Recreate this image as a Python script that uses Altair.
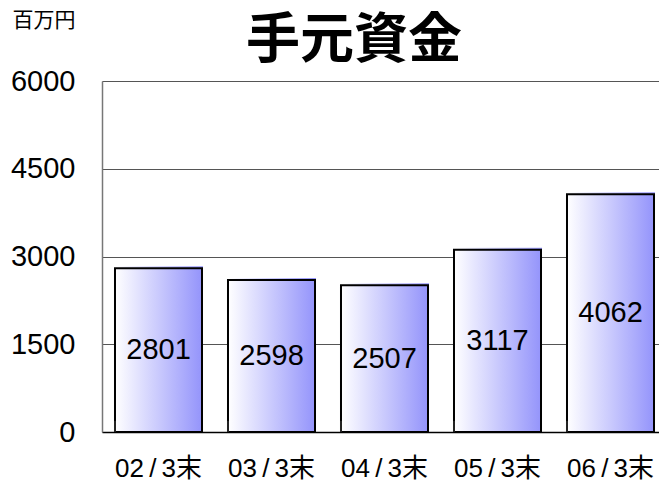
import altair as alt
import pandas as pd

categories = ["02/3末", "03/3末", "04/3末", "05/3末", "06/3末"]
values = [2801, 2598, 2507, 3117, 4062]
y_ticks = [0, 1500, 3000, 4500, 6000]
title_text = ["手元資金"]
unit_text = ["百万円"]

df = pd.DataFrame({"cat": categories, "val": values})

FONT = "Liberation Sans, Arial, Noto Sans CJK JP"
CJK = "Noto Sans CJK JP"

grad = alt.Gradient(
    gradient="linear",
    stops=[alt.GradientStop(color="#ffffff", offset=0),
           alt.GradientStop(color="#9494fb", offset=1)],
    x1=0, x2=1, y1=0, y2=0,
)

xscale = alt.Scale(domain=categories, range=[0, 565], paddingInner=0.23, paddingOuter=0.115)

x_enc = alt.X("cat:N", sort=categories, scale=xscale,
              axis=alt.Axis(title=None, labelFontSize=26, labelFont=FONT, labelColor="#000",
                            labelAngle=0, labelPadding=23, ticks=False,
                            labelExpr="replace(datum.label, '/', '\u2009/\u2009')",
                            domainColor="#000", domainWidth=1.5, grid=False))

y_enc = alt.Y("val:Q", scale=alt.Scale(domain=[0, 6000]),
              axis=alt.Axis(values=y_ticks, title=None, format="d",
                            labelFontSize=29, labelFont=FONT, labelColor="#000",
                            labelPadding=27, ticks=False,
                            domainColor="#777", domainWidth=1.5,
                            grid=True, gridColor="#555", gridWidth=1))

back = alt.Chart(df).mark_bar(color=grad, yOffset=-2, xOffset=1).encode(
    x=x_enc, y=y_enc
)

bars = alt.Chart(df).mark_bar(color=grad, stroke="#000", strokeWidth=2).encode(
    x=alt.X("cat:N", sort=categories, scale=xscale), y=alt.Y("val:Q")
)

ticks = alt.Chart(df).transform_calculate(y0="0", y1="190").mark_rule(
    color="#444", strokeWidth=1
).encode(
    x=alt.X("cat:N", sort=categories, scale=xscale, bandPosition=0),
    y=alt.Y("y0:Q"),
    y2="y1:Q",
)

labels = alt.Chart(df).transform_calculate(mid="datum.val / 2").mark_text(
    fontSize=29, font=FONT, color="#000", baseline="middle", align="center"
).encode(
    x=alt.X("cat:N", sort=categories, scale=xscale),
    y=alt.Y("mid:Q"),
    text=alt.Text("val:Q", format="d"),
)

title = alt.Chart(pd.DataFrame({"t": title_text})).mark_text(
    fontSize=54, font=CJK, fontWeight="bold", color="#000",
    align="center", baseline="middle"
).encode(x=alt.value(252), y=alt.value(-39), text="t:N")

unit = alt.Chart(pd.DataFrame({"t": unit_text})).mark_text(
    fontSize=21, font=CJK, color="#000", align="center", baseline="middle"
).encode(x=alt.value(-58), y=alt.value(-60), text="t:N")

chart = alt.layer(back, bars, ticks, labels, title, unit).properties(
    width=557, height=351,
    autosize="none",
    padding={"left": 94, "top": 73, "right": 0, "bottom": 51},
).configure_view(stroke=None).configure(background="#ffffff")

chart.save("out.html", embed_options={"renderer": "svg", "actions": False})
